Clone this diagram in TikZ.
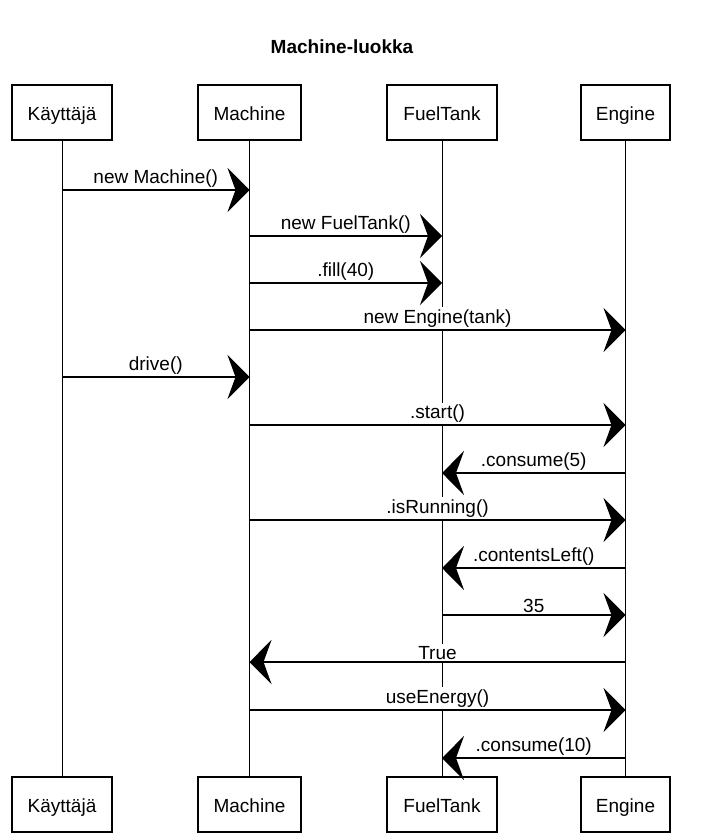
\documentclass[tikz,border=0pt]{standalone}
\usepackage{fontspec}
\setmainfont{Liberation Sans}
\usetikzlibrary{arrows.meta}
\tikzset{
	obj/.style={draw, line width=0.75pt, minimum height=27.5pt, inner sep=0pt, text height=8pt, text depth=0pt, fill=white},
	life/.style={line width=0.5pt},
	msg/.style={line width=0.8pt, -{Stealth[length=11pt,width=22pt,inset=4pt]}},
	lbl/.style={fill=white, inner sep=1pt}
}
\begin{document}
\begin{tikzpicture}[x=0.5pt, y=-0.5pt, font=\fontsize{9.5}{11}\selectfont]
\useasboundingbox (0,0) rectangle (701,839);
\node[font=\fontsize{9.5}{11}\selectfont\bfseries] (title) at (342,47) {Machine-luokka};
% objects at top and bottom
\foreach \n / \x / \w / \t in {K/62/50/Käyttäjä, M/249.5/51.5/Machine, F/442/55/FuelTank, E/625.5/44.5/Engine}
{
	\node[obj, minimum width=\w pt] (\n) at (\x,112.5) {\t};
	\node[obj, minimum width=\w pt] (\n b) at (\x,804.5) {\t};
	\draw[life] (\n) -- (\n b);
}
% messages
\foreach \y / \from / \to / \t in {190/K/M/new Machine(), 236/M/F/new FuelTank(),
	283/M/F/.fill(40), 330/M/E/new Engine(tank), 377/K/M/drive(), 425/M/E/.start(),
	473/E/F/.consume(5), 520/M/E/.isRunning(), 568/E/F/.contentsLeft(), 615/F/E/35,
	662/E/M/True, 710/M/E/useEnergy(), 758/E/F/.consume(10)}
{
	\draw[msg] (\from |- 0,\y) -- (\to |- 0,\y) node[lbl, midway, above] {\t};
}
\end{tikzpicture}
\end{document}
